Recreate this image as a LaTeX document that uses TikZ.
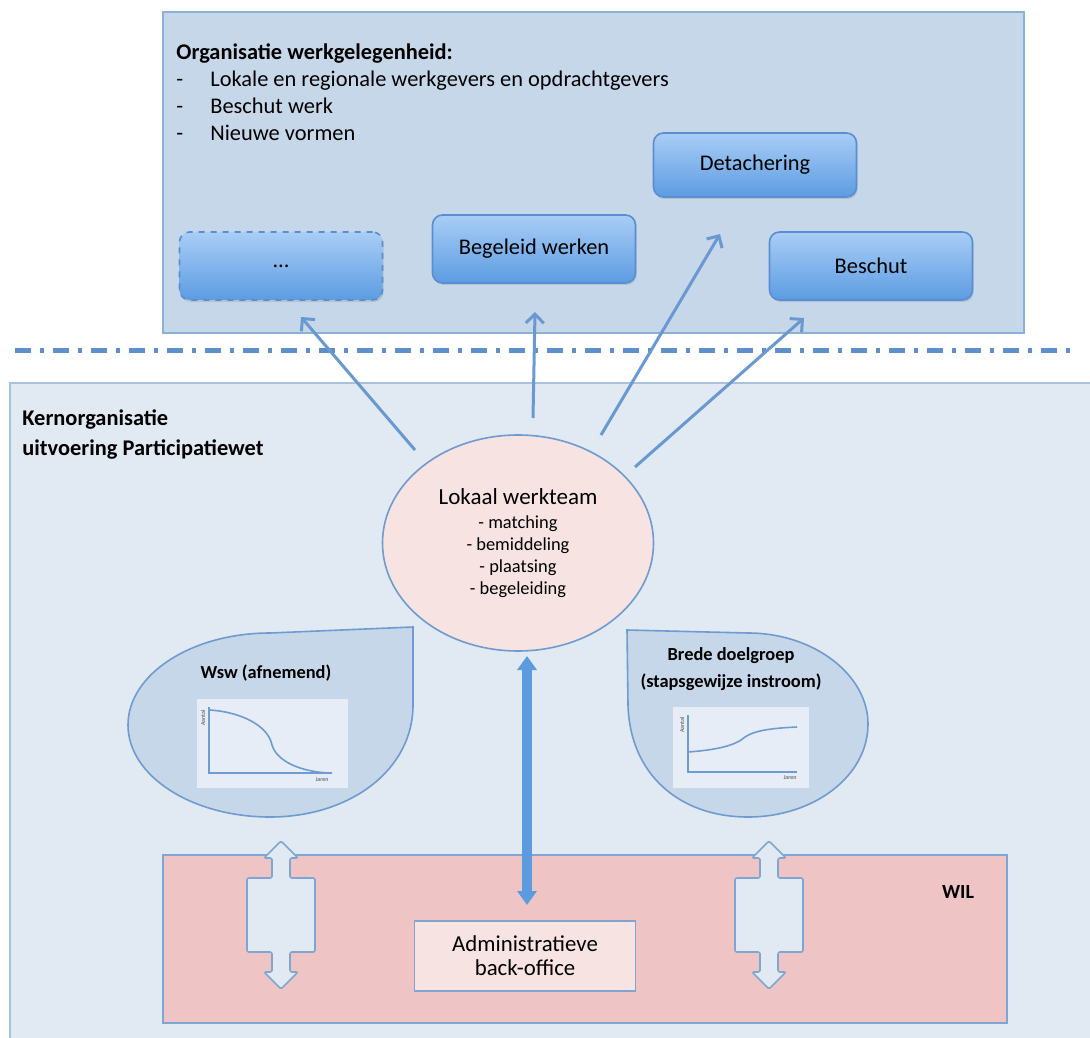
\documentclass[tikz,border=0pt]{standalone}
\usepackage{fontspec}
\setmainfont{Carlito}
\usepackage{tikz}
\usetikzlibrary{arrows.meta,shapes.geometric,shadows}

\definecolor{kaderblauw}{HTML}{C6D7EA}
\definecolor{kaderrand}{HTML}{8DB0D7}
\definecolor{kernblauw}{HTML}{E1E9F3}
\definecolor{kernrand}{HTML}{A8C1DD}
\definecolor{strepen}{HTML}{5F8FCB}
\definecolor{pijlblauw}{HTML}{6A98D0}
\definecolor{lijnblauw}{HTML}{6F9BD0}
\definecolor{teamroze}{HTML}{F6E3E2}
\definecolor{knoptop}{HTML}{A9CDF6}
\definecolor{knopbodem}{HTML}{5C9CE2}
\definecolor{knoprand}{HTML}{5A8ED0}
\definecolor{wilroze}{HTML}{EEC5C4}
\definecolor{adminroze}{HTML}{F7E3E2}
\definecolor{randblauw}{HTML}{7FA5D3}
\definecolor{pijlvol}{HTML}{5D9BDF}
\definecolor{grafiekwit}{HTML}{E6EDF6}

\begin{document}
\begin{tikzpicture}[x=0.5pt, y=-0.5pt,
	every node/.style={font=\fontsize{11.2}{13.5}\selectfont, text=black, inner sep=0pt},
	knop/.style={rounded corners=5pt, draw=knoprand, line width=0.8pt, top color=knoptop, bottom color=knopbodem,
		minimum width=101.5pt, minimum height=34pt, drop shadow={opacity=0.25, shadow xshift=0.6pt, shadow yshift=-1pt}},
	pijl/.style={draw=pijlblauw, line width=1.5pt, -{Straight Barb[length=4.5pt, width=9pt]}},
	druppel/.style={fill=kaderblauw, draw=lijnblauw, line width=0.8pt},
	grafiek/.style={draw=lijnblauw, line width=0.8pt},
	klein/.style={font=\fontsize{3}{3}\selectfont, text=black!70},
	dubbel/.style={fill=kernblauw, draw=randblauw, line width=0.8pt, rounded corners=1pt}]
	\useasboundingbox (0,0) rectangle (1090,1037);
	% werkgelegenheid
	\draw[draw=kaderrand, line width=0.9pt, fill=kaderblauw] (163,12) rectangle (1024,333);
	\node (org) [anchor=north west, align=left] at (176,43) {\textbf{Organisatie werkgelegenheid:}\\
		\makebox[17pt][l]{-}Lokale en regionale werkgevers en opdrachtgevers\\
		\makebox[17pt][l]{-}Beschut werk\\
		\makebox[17pt][l]{-}Nieuwe vormen};
	\node (detach) [knop, minimum height=32pt] at (755,165) {Detachering};
	\node (dots) [knop, dashed] at (281,266) {...};
	\node (begeleid) [knop] at (534,249) {Begeleid werken};
	\node (beschut) [knop] at (871,266) {Beschut};
	\draw[draw=strepen, line width=2.5pt, dash pattern=on 8pt off 4.5pt on 2pt off 4.5pt] (15,350) -- (1075,350);
	% kernorganisatie
	\draw[draw=kernrand, line width=0.9pt, fill=kernblauw] (10,383) rectangle (1100,1050);
	\node (kern) [anchor=west, align=left, font=\bfseries\fontsize{11.2}{15}\selectfont] at (22,435)
		{Kernorganisatie\\uitvoering Participatiewet};
	\node (team) [ellipse, draw=lijnblauw, line width=0.8pt, fill=teamroze, minimum width=135.5pt, minimum height=108pt,
		align=center, font=\fontsize{9.2}{11}\selectfont] at (518,543)
		{{\fontsize{11.5}{12}\selectfont Lokaal werkteam}\\[1pt] - matching\\ - bemiddeling\\ - plaatsing\\ - begeleiding};
	\coordinate (p1) at (415,450); \coordinate (q1) at (301,317);
	\coordinate (p2) at (533,418); \coordinate (q2) at (535,312);
	\coordinate (p3) at (601,435); \coordinate (q3) at (720,234);
	\coordinate (p4) at (635,467); \coordinate (q4) at (804,318);
	\draw[pijl] (p1) -- (q1);
	\draw[pijl] (p2) -- (q2);
	\draw[pijl] (p3) -- (q3);
	\draw[pijl] (p4) -- (q4);
	% druppel links
	\draw[druppel] (128,725) .. controls (128,674) and (192,633) .. (270,633) -- (413,627) -- (413,705)
		.. controls (413,770) and (350,817) .. (270,817) .. controls (192,817) and (128,776) .. cycle;
	\node (wsw) [font=\bfseries\fontsize{9.2}{11}\selectfont] at (266,673) {Wsw (afnemend)};
	\fill[grafiekwit] (197,699) rectangle (348,788);
	\draw[grafiek] (209,707) -- (209,773) -- (332,773);
	\draw[grafiek] (210,710) .. controls (240,712) and (268,725) .. (272,745) .. controls (278,765) and (310,773) .. (332,773);
	\node[klein, rotate=90] (wswy) at (203,718) {Aantal};
	\node[klein] (wswx) at (322,780) {Jaren};
	% druppel rechts
	\draw[druppel] (627,630) -- (748,633) .. controls (814,633) and (868,675) .. (868,724)
		.. controls (868,776) and (814,817) .. (748,817) .. controls (680,817) and (630,775) .. (628,705) -- cycle;
	\node (brede) [align=center, font=\bfseries\fontsize{9.2}{13.5}\selectfont] at (731,669)
		{Brede doelgroep\\(stapsgewijze instroom)};
	\fill[grafiekwit] (673,707) rectangle (809,788);
	\draw[grafiek] (688,715) -- (688,772) -- (797,772);
	\draw[grafiek] (688,752) .. controls (715,750) and (735,746) .. (745,737) .. controls (755,730) and (775,728) .. (797,727);
	\node[klein, rotate=90] (bredey) at (682,725) {Aantal};
	\node[klein] (bredex) at (790,778) {Jaren};
	% WIL
	\draw[draw=randblauw, line width=0.9pt, fill=wilroze] (163,855) rectangle (1007,1023);
	\node (wil) [font=\bfseries] at (958,892) {WIL};
	\node (admin) [draw=randblauw, line width=0.8pt, fill=adminroze, minimum width=110.5pt, minimum height=35pt,
		align=center, font=\fontsize{11.4}{12}\selectfont] at (525,956) {Administratieve\\back-office};
	\draw[dubbel] (281,841) -- (298,858) -- (290,858) -- (290,878) -- (315,878) -- (315,952) -- (290,952) -- (290,972)
		-- (298,972) -- (281,989) -- (264,972) -- (272,972) -- (272,952) -- (247,952) -- (247,878) -- (272,878)
		-- (272,858) -- (264,858) -- cycle;
	\begin{scope}[shift={(488,0)}]
	\draw[dubbel] (281,841) -- (298,858) -- (290,858) -- (290,878) -- (315,878) -- (315,952) -- (290,952) -- (290,972)
		-- (298,972) -- (281,989) -- (264,972) -- (272,972) -- (272,952) -- (247,952) -- (247,878) -- (272,878)
		-- (272,858) -- (264,858) -- cycle;
	\end{scope}
	\coordinate (v1) at (527,656); \coordinate (v2) at (527,905);
	\draw[draw=pijlvol, line width=5pt, {Triangle[length=7pt, width=9.5pt]}-{Triangle[length=7pt, width=9.5pt]}] (v1) -- (v2);
\end{tikzpicture}
\end{document}
